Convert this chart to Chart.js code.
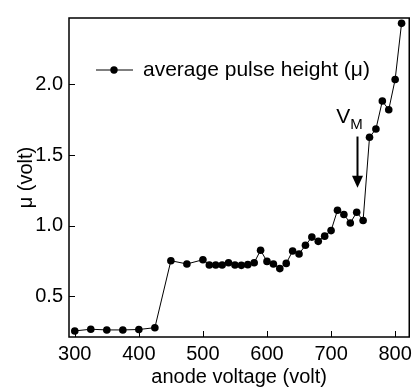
<!DOCTYPE html>
<html>
<head>
<meta charset="utf-8">
<script src="https://cdn.jsdelivr.net/npm/chart.js@4"></script>
<style>
  html, body { margin: 0; padding: 0; background: #fff; }
  #wrap { width: 417px; height: 388px; }
</style>
</head>
<body>
<div id="wrap"><canvas id="grafica" width="417" height="388"></canvas></div>
<script>
// datos
const voltajes = [300, 325, 350, 375, 400, 425, 450, 475, 500, 510, 520, 530, 540, 550, 560, 570, 580, 590, 600, 610, 620, 630, 640, 650, 660, 670, 680, 690, 700, 710, 720, 730, 740, 750, 760, 770, 780, 790, 800, 810];
const alturaMedia = [0.255, 0.267, 0.262, 0.262, 0.265, 0.278, 0.752, 0.729, 0.759, 0.722, 0.722, 0.722, 0.738, 0.722, 0.719, 0.724, 0.738, 0.826, 0.747, 0.729, 0.696, 0.733, 0.821, 0.800, 0.861, 0.919, 0.889, 0.926, 0.965, 1.109, 1.079, 1.019, 1.095, 1.037, 1.626, 1.684, 1.882, 1.821, 2.035, 2.432];
const ticksX = [300, 400, 500, 600, 700, 800];
const ticksY = [0.5, 1.0, 1.5, 2.0];
const etiquetaSerie = 'average pulse height (\u03bc)';

const fuente = 'Liberation Sans, Arial, Helvetica, sans-serif';

// marco, ticks hacia adentro, leyenda y flecha V_M
const extras = {
  id: 'extras',
  afterDraw(chart) {
    const ctx = chart.ctx;
    const a = chart.chartArea;
    const sx = chart.scales.x, sy = chart.scales.y;
    ctx.save();
    ctx.strokeStyle = '#000';
    ctx.lineWidth = 1.5;
    ctx.strokeRect(a.left, a.top, a.right - a.left, a.bottom - a.top);

    ctx.lineWidth = 1;
    ctx.beginPath();
    ticksX.forEach(v => {
      const px = Math.round(sx.getPixelForValue(v)) + 0.5;
      ctx.moveTo(px, a.bottom);
      ctx.lineTo(px, a.bottom - 6);
    });
    ticksY.forEach(v => {
      const py = Math.round(sy.getPixelForValue(v)) + 0.5;
      ctx.moveTo(a.left, py);
      ctx.lineTo(a.left + 6, py);
    });
    ctx.stroke();

    // leyenda
    const ly = 70;
    ctx.beginPath();
    ctx.moveTo(96, ly);
    ctx.lineTo(133, ly);
    ctx.stroke();
    ctx.fillStyle = '#000';
    ctx.beginPath();
    ctx.arc(114, ly, 3.7, 0, Math.PI * 2);
    ctx.fill();
    ctx.font = '21px ' + fuente;
    ctx.textBaseline = 'middle';
    ctx.textAlign = 'left';
    ctx.fillText(chart.data.datasets[0].label, 143, ly);

    // anotacion V_M
    const vx = sx.getPixelForValue(708);
    const vy = sy.getPixelForValue(1.728);
    ctx.textBaseline = 'alphabetic';
    ctx.font = '21px ' + fuente;
    ctx.fillText('V', vx, vy);
    ctx.font = '15px ' + fuente;
    ctx.fillText('M', vx + 14, vy + 6);

    const ax = Math.round(sx.getPixelForValue(741)) + 0.5;
    const y1 = sy.getPixelForValue(1.631);
    const y2 = sy.getPixelForValue(1.269);
    ctx.lineWidth = 2;
    ctx.beginPath();
    ctx.moveTo(ax, y1);
    ctx.lineTo(ax, y2 - 10);
    ctx.stroke();
    ctx.beginPath();
    ctx.moveTo(ax - 5.5, y2 - 12);
    ctx.lineTo(ax + 5.5, y2 - 12);
    ctx.lineTo(ax, y2);
    ctx.closePath();
    ctx.fill();
    ctx.restore();
  }
};

new Chart(document.getElementById('grafica'), {
  type: 'line',
  data: {
    datasets: [{
      label: etiquetaSerie,
      data: voltajes.map((v, i) => ({ x: v, y: alturaMedia[i] })),
      borderColor: '#000',
      backgroundColor: '#000',
      borderWidth: 1,
      pointRadius: 3.8,
      pointBorderWidth: 0,
      pointBackgroundColor: '#000',
      tension: 0
    }]
  },
  options: {
    responsive: false,
    animation: false,
    layout: { padding: { top: 12, right: 4, left: 0, bottom: 0 } },
    plugins: {
      legend: { display: false },
      tooltip: { enabled: false }
    },
    scales: {
      x: {
        type: 'linear',
        min: 291,
        max: 822,
        afterBuildTicks: s => { s.ticks = ticksX.map(v => ({ value: v })); },
        afterFit: s => { s.height = 51; },
        grid: { display: false, drawTicks: false },
        border: { display: false },
        ticks: { color: '#000', font: { family: fuente, size: 20 }, padding: 5, maxRotation: 0 },
        title: {
          display: true,
          text: 'anode voltage (volt)',
          color: '#000',
          font: { family: fuente, size: 20 },
          padding: { top: 0, bottom: -1 }
        }
      },
      y: {
        min: 0.212,
        max: 2.47,
        afterBuildTicks: s => { s.ticks = ticksY.map(v => ({ value: v })); },
        afterFit: s => { s.width = 69; },
        grid: { display: false, drawTicks: false },
        border: { display: false },
        ticks: {
          color: '#000',
          font: { family: fuente, size: 20 },
          padding: 6,
          callback: v => Number(v).toFixed(1)
        },
        title: {
          display: true,
          text: '\u03bc (volt)',
          color: '#000',
          font: { family: fuente, size: 20 },
          padding: { top: 14, bottom: 0 }
        }
      }
    }
  },
  plugins: [extras]
});
</script>
</body>
</html>
